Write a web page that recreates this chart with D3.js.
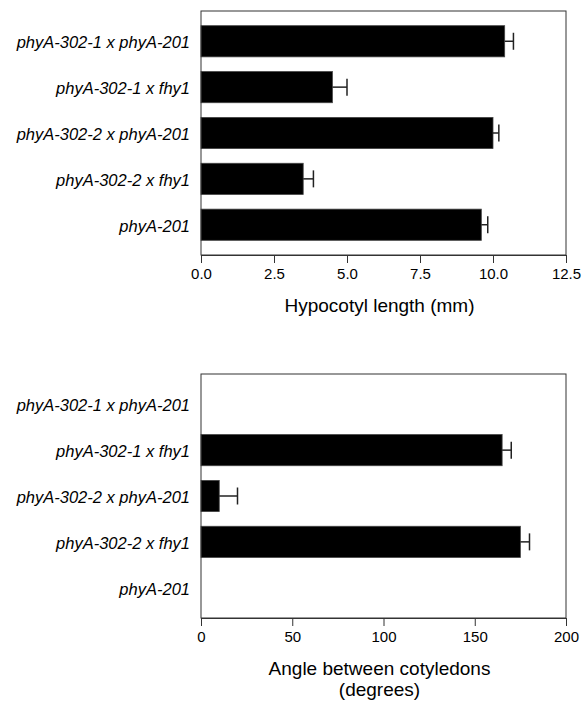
<!DOCTYPE html>
<html>
<head>
<meta charset="utf-8">
<script src="https://cdn.jsdelivr.net/npm/d3@7"></script>
<style>
  body { margin: 0; background: #fff; }
  svg text { font-family: "Liberation Sans", Arial, Helvetica, sans-serif; fill: #000; }
</style>
</head>
<body>
<svg width="582" height="702"></svg>
<script>
// categories, top to bottom
var lines = ["phyA-302-1 x phyA-201", "phyA-302-1 x fhy1", "phyA-302-2 x phyA-201", "phyA-302-2 x fhy1", "phyA-201"];

// hypocotyl length (mm) and error
var hypoValues = [10.4, 4.5, 10.0, 3.5, 9.6];
var hypoErrors = [0.3, 0.5, 0.2, 0.35, 0.22];
var hypoTicks = [0, 2.5, 5, 7.5, 10, 12.5];

// angle between cotyledons (degrees) and error; zero = no bar
var angleValues = [0, 165, 10, 175, 0];
var angleErrors = [0, 5, 10, 5, 0];
var angleTicks = [0, 50, 100, 150, 200];

var svg = d3.select("svg");

function drawPanel(top, values, errors, domainMax, ticks, fmt, titleLines) {
	var left = 201, right = 566, h = 244;
	var g = svg.append("g");

	var x = d3.scaleLinear().domain([0, domainMax]).range([left, right]);
	var y = d3.scaleBand().domain(lines).range([top, top + h]).padding(0.32);

	var rows = lines.map(function(name, i){ return {name: name, v: values[i], e: errors[i]}; });

	// bars
	g.selectAll(".bar")
		.data(rows.filter(function(d){ return d.v > 0; }))
		.enter().append("rect")
		.attr("class", "bar")
		.attr("x", x(0))
		.attr("y", function(d){ return y(d.name); })
		.attr("width", function(d){ return x(d.v) - x(0); })
		.attr("height", y.bandwidth())
		.attr("fill", "#000")
		.attr("stroke", "#444")
		.attr("stroke-width", 0.8);

	// error bars (one-sided, with cap)
	var err = g.selectAll(".err")
		.data(rows.filter(function(d){ return d.v > 0; }))
		.enter().append("g")
		.attr("class", "err")
		.attr("stroke", "#222")
		.attr("stroke-width", 1.5);
	err.append("line")
		.attr("x1", function(d){ return x(d.v); })
		.attr("x2", function(d){ return x(d.v + d.e); })
		.attr("y1", function(d){ return y(d.name) + y.bandwidth() / 2; })
		.attr("y2", function(d){ return y(d.name) + y.bandwidth() / 2; });
	err.append("line")
		.attr("x1", function(d){ return x(d.v + d.e); })
		.attr("x2", function(d){ return x(d.v + d.e); })
		.attr("y1", function(d){ return y(d.name) + y.bandwidth() / 2 - 8.5; })
		.attr("y2", function(d){ return y(d.name) + y.bandwidth() / 2 + 8.5; });

	// frame
	g.append("rect")
		.attr("x", left).attr("y", top)
		.attr("width", right - left).attr("height", h)
		.attr("fill", "none")
		.attr("stroke", "#333")
		.attr("stroke-width", 1);

	// x axis
	var ax = g.append("g")
		.attr("transform", "translate(0," + (top + h) + ")")
		.call(d3.axisBottom(x).tickValues(ticks).tickFormat(fmt).tickSize(8).tickPadding(5));
	ax.select(".domain").attr("stroke", "#333");
	ax.selectAll(".tick line").attr("stroke", "#333");
	ax.selectAll(".tick text").style("font-size", "15px");

	// category labels
	g.selectAll(".cat")
		.data(lines)
		.enter().append("text")
		.attr("class", "cat")
		.attr("x", 190)
		.attr("y", function(d){ return y(d) + y.bandwidth() / 2 + 1; })
		.attr("dy", "0.35em")
		.attr("text-anchor", "end")
		.style("font-style", "italic")
		.style("font-size", "16.5px")
		.text(function(d){ return d; });

	// axis title
	titleLines.forEach(function(t, i){
		g.append("text")
			.attr("x", (left + right) / 2 - 4)
			.attr("y", top + h + 57 + i * 21)
			.attr("text-anchor", "middle")
			.style("font-size", "19px")
			.text(t);
	});
}

drawPanel(11, hypoValues, hypoErrors, 12.5, hypoTicks, d3.format(".1f"), ["Hypocotyl length (mm)"]);
drawPanel(374, angleValues, angleErrors, 200, angleTicks, d3.format("d"), ["Angle between cotyledons", "(degrees)"]);
</script>
</body>
</html>
